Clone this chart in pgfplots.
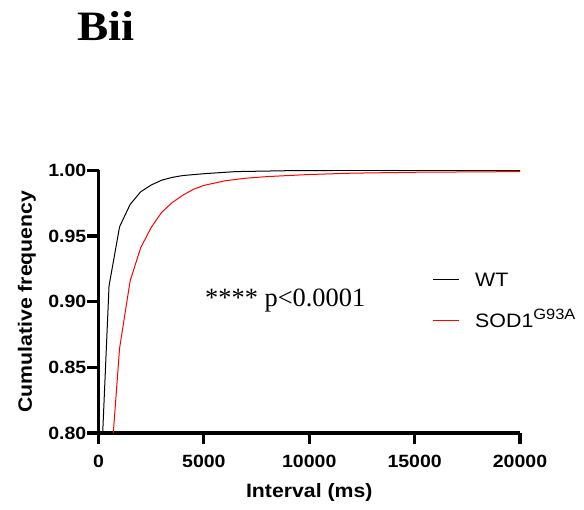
\documentclass[border=0pt]{standalone}
\usepackage{pgfplots}
\pgfplotsset{compat=1.18}
\usepackage{fontspec}
\setmainfont{Liberation Sans}[FakeStretch=1.1]
\newfontfamily\tnr{Liberation Serif}
\newfontfamily\tnrwide{Liberation Serif}[FakeStretch=1.12]
\begin{document}
\begin{tikzpicture}[x=1bp,y=1bp]
\path[use as bounding box] (0,0) rectangle (584,510);
\node[font=\tnrwide\bfseries\fontsize{42}{42}\selectfont, anchor=base] at (106,469) {Bii};
\begin{axis}[
  at={(98.5bp,77bp)}, anchor=south west,
  scale only axis, width=421.5bp, height=262.7bp,
  xmin=0, xmax=20000, ymin=0.8, ymax=1.0,
  axis x line*=bottom, axis y line*=left,
  axis line style={line width=3.2bp,-},
  every tick/.style={line width=3.2bp, black},
  tick align=outside, major tick length=11bp,
  xtick={0,5000,10000,15000,20000},
  ytick={0.80,0.85,0.90,0.95,1.00},
  scaled ticks=false,
  /pgf/number format/assume math mode=true,
  xticklabel style={inner ysep=0pt, yshift=-11bp, /pgf/number format/.cd, fixed, 1000 sep={}},
  yticklabel style={inner xsep=1bp, /pgf/number format/.cd, fixed, fixed zerofill, precision=2},
  ticklabel style={font=\bfseries\fontsize{17.8}{18}\selectfont},
  xlabel={Interval (ms)}, ylabel={Cumulative frequency},
  label style={font=\bfseries\fontsize{19.4}{20}\selectfont},
  xlabel style={at={(axis description cs:0.5,-0.2474)}, anchor=base},
  ylabel style={at={(axis description cs:-0.1578,0.5)}, anchor=base},
  clip mode=individual,
]
\addplot[black, line width=1bp] coordinates {
(0,0.726) (500,0.912) (1000,0.957) (1500,0.974) (2000,0.9836) (2500,0.9888) (3000,0.9925)
(3500,0.9946) (4000,0.9960) (5000,0.9974) (6500,0.9990) (9000,0.9997) (12000,0.9999) (20000,1.0)};
\addplot[red, line width=1bp] coordinates {
(500,0.756) (1000,0.8645) (1500,0.9157) (2000,0.941) (2500,0.9565) (3000,0.968) (3500,0.9755)
(4000,0.981) (4500,0.9855) (5000,0.9885) (6000,0.992) (7000,0.994) (8000,0.9952) (9000,0.996)
(10000,0.9968) (12000,0.9978) (15000,0.9985) (20000,0.999)};
\node[font=\tnr\fontsize{26.5}{26.5}\selectfont, anchor=base west, inner sep=0pt] at (axis cs:5053,0.8962) {**** p<0.0001};
\draw[black, line width=1bp] (rel axis cs:0.7936,0.5824) -- ++(26bp,0bp);
\draw[red, line width=1bp] (rel axis cs:0.7936,0.4301) -- ++(26bp,0bp);
\node[anchor=base west, inner sep=0pt, text=black, font=\fontsize{19.5}{19.5}\selectfont]
  at ([xshift=42bp, yshift=-7bp]rel axis cs:0.7936,0.5824) {WT};
\node[anchor=base west, inner sep=0pt, text=black, font=\fontsize{19.5}{19.5}\selectfont]
  at ([xshift=42bp, yshift=-7bp]rel axis cs:0.7936,0.4301) {SOD1\raisebox{7.5bp}{\fontsize{15}{15}\selectfont G93A}};
\end{axis}
\end{tikzpicture}
\end{document}
